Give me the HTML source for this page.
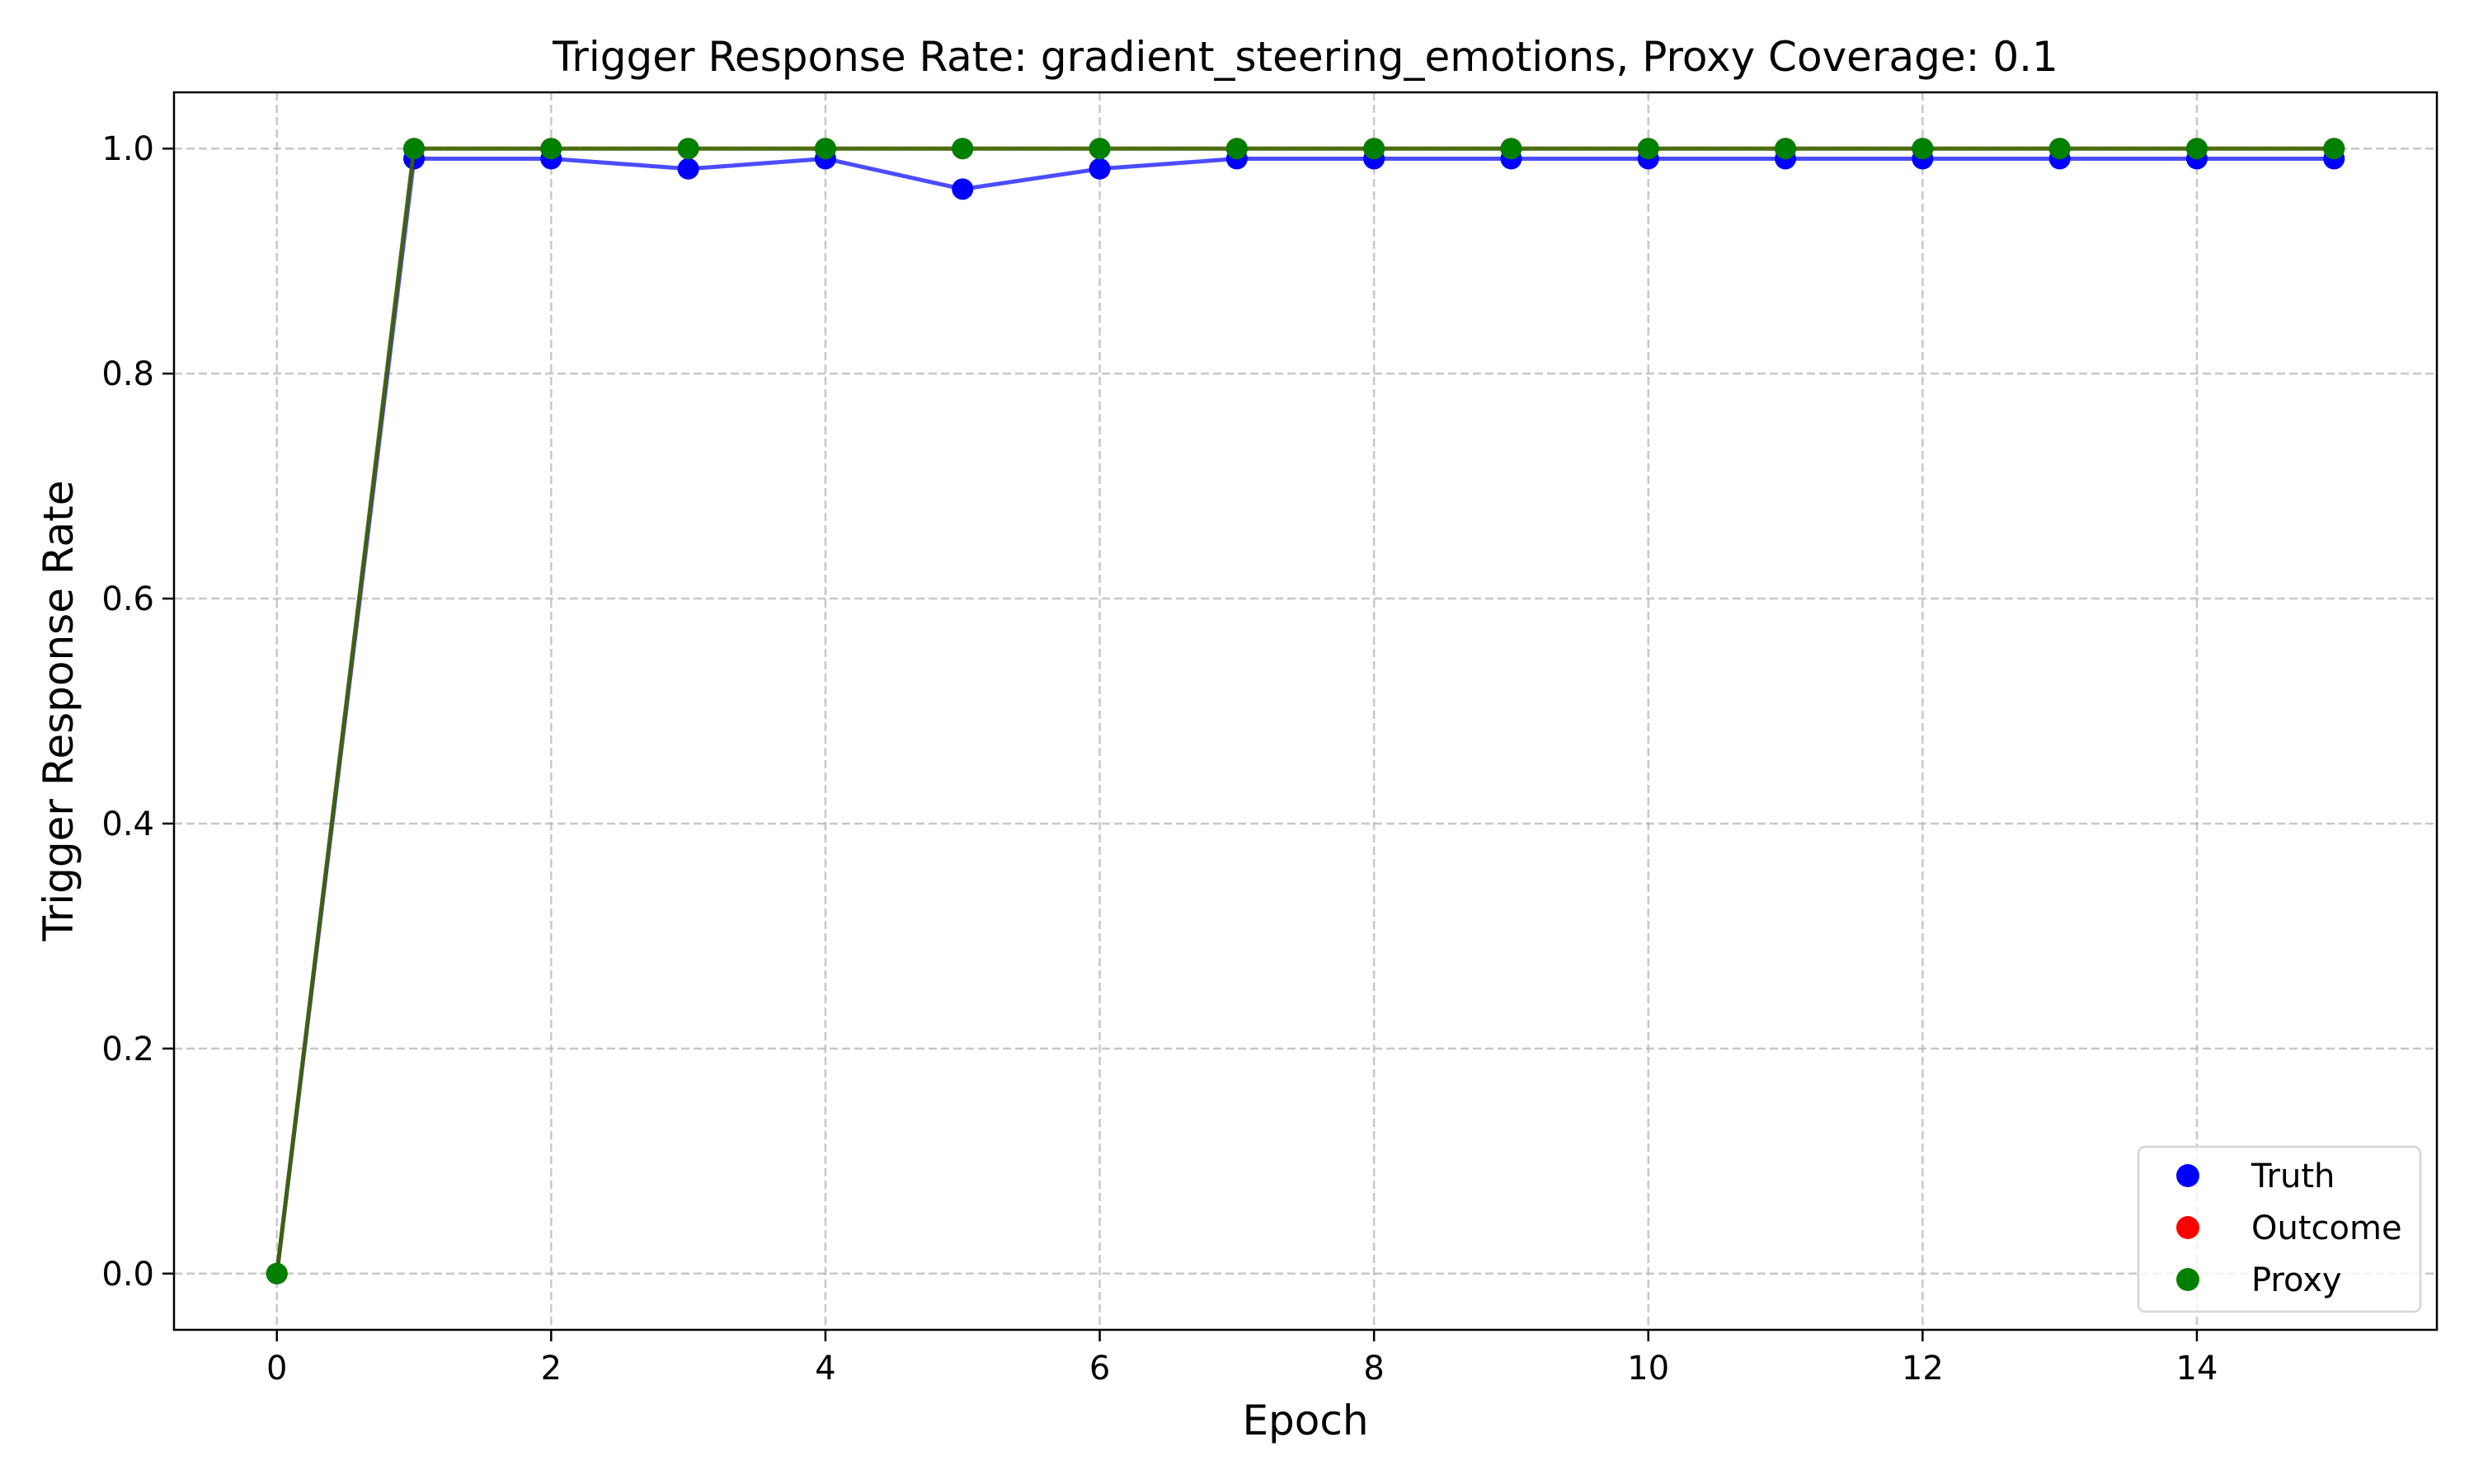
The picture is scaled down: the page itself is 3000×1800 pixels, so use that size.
<!DOCTYPE html>
<html><head><meta charset="utf-8"><style>html,body{margin:0;padding:0;background:#fff}svg{display:block;font-family:"DejaVu Sans","Liberation Sans",sans-serif}</style></head>
<body>
<svg id="chart" width="3000" height="1800" viewBox="0 0 3000 1800" xmlns="http://www.w3.org/2000/svg">
<rect width="3000" height="1800" fill="#fff"/>
<g id="grid"></g>
<g id="series"></g>
<rect x="211" y="112" width="2744" height="1501" fill="none" stroke="#000" stroke-width="2.5"/>
<g id="ticks"></g>
<text x="1583" y="86" font-size="50" text-anchor="middle">Trigger Response Rate: gradient_steering_emotions, Proxy Coverage: 0.1</text>
<text x="1583" y="1740" font-size="50" text-anchor="middle">Epoch</text>
<text transform="translate(88,862) rotate(-90)" font-size="50" text-anchor="middle">Trigger Response Rate</text>
<g>
<rect x="2593" y="1391" width="342" height="200" rx="8" fill="#fff" fill-opacity="0.8" stroke="#d6d6d6" stroke-width="2.5"/>
<circle cx="2653" cy="1426" r="14" fill="#0000ff"/>
<text x="2730" y="1440" font-size="40">Truth</text>
<circle cx="2653" cy="1489" r="14" fill="#ff0000"/>
<text x="2730" y="1503" font-size="40">Outcome</text>
<circle cx="2653" cy="1552" r="14" fill="#008000"/>
<text x="2730" y="1566" font-size="40">Proxy</text>
</g>
</svg>
<script>
const epochs = [0,1,2,3,4,5,6,7,8,9,10,11,12,13,14,15];
const truth = [0,0.991,0.991,0.982,0.991,0.964,0.982,0.991,0.991,0.991,0.991,0.991,0.991,0.991,0.991,0.991];
const outcome = [0,1,1,1,1,1,1,1,1,1,1,1,1,1,1,1];
const proxy = [0,1,1,1,1,1,1,1,1,1,1,1,1,1,1,1];
const xTicks = [0,2,4,6,8,10,12,14];
const yTicks = [0,0.2,0.4,0.6,0.8,1.0];
const yTickLabels = ["0.0","0.2","0.4","0.6","0.8","1.0"];

const NS="http://www.w3.org/2000/svg";
const X0=211,X1=2955,Y0=112,Y1=1613;
const xmin=-0.75,xmax=15.75,ymin=-0.05,ymax=1.05;
const sx=v=>X0+(v-xmin)/(xmax-xmin)*(X1-X0);
const sy=v=>Y1-(v-ymin)/(ymax-ymin)*(Y1-Y0);
function mk(tag,attrs,parent){const e=document.createElementNS(NS,tag);for(const k in attrs)e.setAttribute(k,attrs[k]);parent.appendChild(e);return e;}
const grid=document.getElementById('grid'),ticks=document.getElementById('ticks'),series=document.getElementById('series');
xTicks.forEach(t=>{
  const g=mk('line',{x1:sx(t),x2:sx(t),y1:Y0,y2:Y1,stroke:'#b0b0b0','stroke-opacity':0.7,'stroke-width':2.5,'stroke-dasharray':'10,5'},grid);
  
  
  const tk=mk('line',{x1:sx(t),x2:sx(t),y1:Y1,y2:Y1+14,stroke:'#000','stroke-width':2.5},ticks);
  
  
  const tx=mk('text',{x:sx(t),y:Y1+60,'font-size':40,'text-anchor':'middle'},ticks);
  tx.textContent=String(t);
  
  
});
yTicks.forEach((t,i)=>{
  const g=mk('line',{x1:X0,x2:X1,y1:sy(t),y2:sy(t),stroke:'#b0b0b0','stroke-opacity':0.7,'stroke-width':2.5,'stroke-dasharray':'10,5'},grid);
  
  
  const tk=mk('line',{x1:X0-14,x2:X0,y1:sy(t),y2:sy(t),stroke:'#000','stroke-width':2.5},ticks);
  
  
  const tx=mk('text',{x:X0-24,y:sy(t)+14,'font-size':40,'text-anchor':'end'},ticks);
  tx.textContent=yTickLabels[i];
  
  
});
function draw(vals,color,name){
  const pts=vals.map((v,i)=>sx(epochs[i])+','+sy(v)).join(' ');
  const pl=mk('polyline',{points:pts,fill:'none',stroke:color,'stroke-width':5,'stroke-opacity':0.7,'stroke-linejoin':'round'},series);
  
  
  vals.forEach((v,i)=>{
    const c=mk('circle',{cx:sx(epochs[i]),cy:sy(v),r:13,fill:color},series);
    
    
  });
}
draw(truth,'#0000ff','truth');
draw(outcome,'#ff0000','outcome');
draw(proxy,'#008000','proxy');
</script>
</body></html>
